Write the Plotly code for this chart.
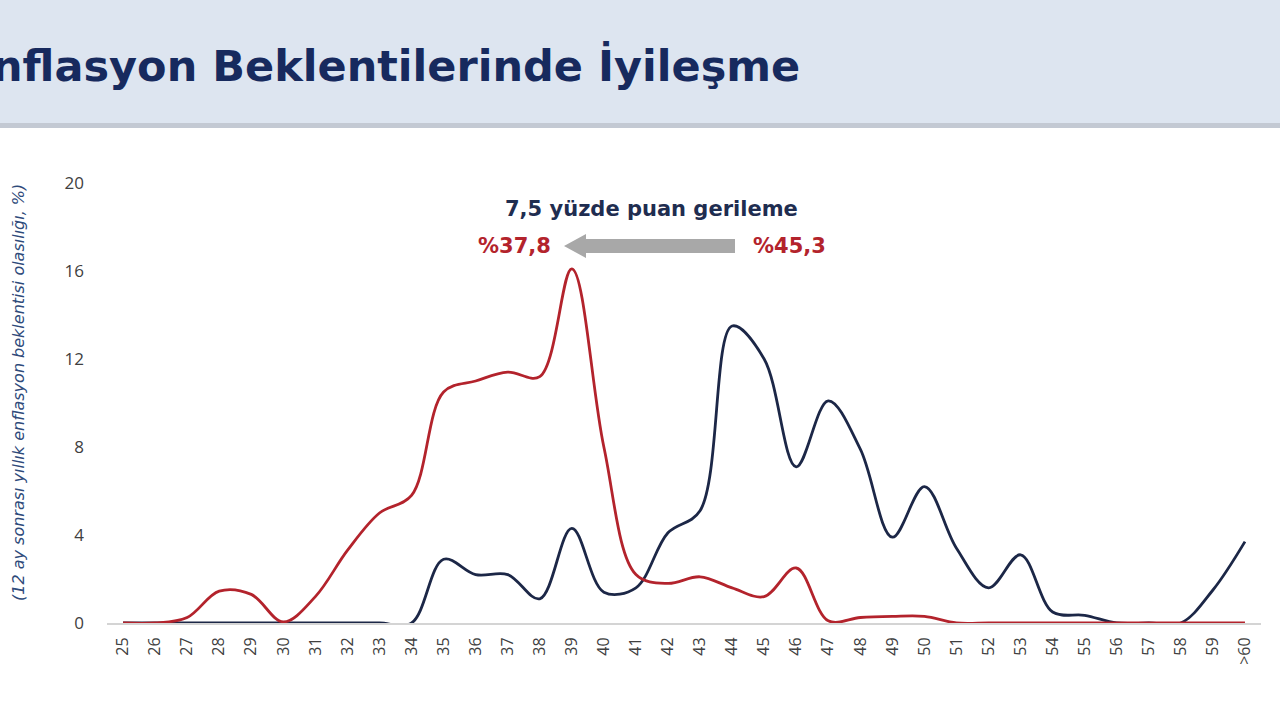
import plotly.graph_objects as go

categories = [str(v) for v in range(25, 60)] + [">60"]
series_new = [0, 0, 0.25, 1.45, 1.3, 0.05, 1.2, 3.3, 5.0, 5.8, 10.5, 11.0, 11.4, 11.2, 16.1,
              8.0, 2.2, 1.8, 2.1, 1.6, 1.2, 2.5, 0.1, 0.25, 0.3, 0.3, 0, 0, 0, 0, 0, 0, 0, 0, 0, 0]
series_old = [0, 0, 0, 0, 0, 0, 0, 0, 0, 0, 2.9, 2.2, 2.2, 1.1, 4.3,
              1.4, 1.6, 4.1, 5.1, 13.5, 12.0, 7.1, 10.1, 7.9, 3.9, 6.2, 3.4, 1.6, 3.1, 0.5,
              0.35, 0, 0, 0, 1.5, 3.7]
y_ticks = [0, 4, 8, 12, 16, 20]

title_text = "İnflasyon Beklentilerinde İyileşme"
ytitle_text = "(12 ay sonrası yıllık enflasyon beklentisi olasılığı, %)"
note_text = "7,5 yüzde puan gerileme"
label_new = "%37,8"
label_old = "%45,3"

NAVY = "#1c2747"
RED = "#b3232c"

# plot area in pixels
L, R, T, B = 107, 19, 183, 97
W, H = 1280, 720
PW, PH = W - L - R, H - T - B


def px(x):
    return (x - L) / PW


def py(y):
    return (H - B - y) / PH


fig = go.Figure()
fig.add_trace(go.Scatter(x=categories, y=series_old, mode="lines", name="Önceki",
                         line=dict(color=NAVY, width=2.8, shape="spline", smoothing=1.0)))
fig.add_trace(go.Scatter(x=categories, y=series_new, mode="lines", name="Güncel",
                         line=dict(color=RED, width=2.8, shape="spline", smoothing=1.0)))

shapes = [
    dict(type="rect", xref="paper", yref="paper", x0=px(-5), x1=px(1290), y0=py(0), y1=py(123),
         fillcolor="#dde5f0", line=dict(width=0), layer="below"),
    dict(type="rect", xref="paper", yref="paper", x0=px(-5), x1=px(1290), y0=py(123), y1=py(128),
         fillcolor="#c3c9d3", line=dict(width=0), layer="below"),
    # grey arrow
    dict(type="path", xref="paper", yref="paper",
         path=(f"M {px(735)},{py(239)} L {px(586)},{py(239)} L {px(586)},{py(234)} "
               f"L {px(564)},{py(246)} L {px(586)},{py(258)} L {px(586)},{py(253)} "
               f"L {px(735)},{py(253)} Z"),
         fillcolor="#a8a8a8", line=dict(width=0)),
]

annotations = [
    dict(text=title_text, xref="paper", yref="paper", x=px(802), y=py(66), xanchor="right",
         yanchor="middle", showarrow=False,
         font=dict(family="DejaVu Sans", size=43, color="#172a5e", weight="bold")),
    dict(text=ytitle_text, xref="paper", yref="paper", x=px(18), y=py(393), xanchor="center",
         yanchor="middle", textangle=-90, showarrow=False,
         font=dict(family="DejaVu Sans", size=16, color="#2e4a7a", style="italic")),
    dict(text=f"<b>{note_text}</b>", xref="paper", yref="paper", x=px(651), y=py(209),
         xanchor="center", yanchor="middle", showarrow=False,
         font=dict(family="DejaVu Sans", size=21, color="#1f2d50")),
    dict(text=f"<b>{label_new}</b>", xref="paper", yref="paper", x=px(553), y=py(246),
         xanchor="right", yanchor="middle", showarrow=False,
         font=dict(family="DejaVu Sans", size=21, color=RED)),
    dict(text=f"<b>{label_old}</b>", xref="paper", yref="paper", x=px(751), y=py(246),
         xanchor="left", yanchor="middle", showarrow=False,
         font=dict(family="DejaVu Sans", size=21, color=RED)),
]

fig.update_layout(
    width=W, height=H,
    margin=dict(l=L, r=R, t=T, b=B),
    paper_bgcolor="white", plot_bgcolor="white",
    showlegend=False,
    shapes=shapes,
    annotations=annotations,
    font=dict(family="Open Sans", color="#404040"),
)
fig.update_xaxes(type="category", range=[-0.5, len(categories) - 0.5], showgrid=False,
                 showline=True, linecolor="#d4d4d4", linewidth=2, zeroline=False,
                 tickangle=-90, tickfont=dict(size=16, color="#404040"), ticks="",
                 ticklabelstandoff=6)
fig.update_yaxes(range=[0, 20], tickvals=y_ticks, showgrid=False, zeroline=False,
                 showline=False, tickfont=dict(size=17, color="#404040"), ticks="",
                 ticklabelstandoff=22)

fig.write_html("out.html")
